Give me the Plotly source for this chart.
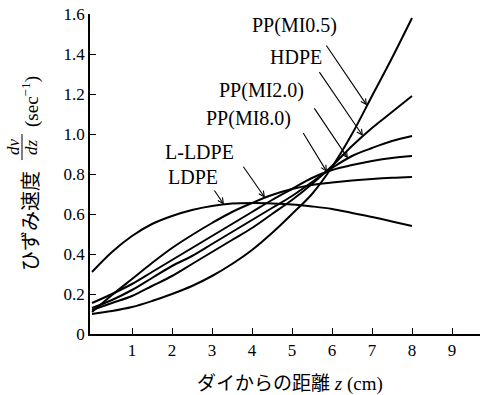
import numpy as np
import plotly.graph_objects as go

# ---- data ----
z = [0, 0.5, 1, 1.5, 2, 2.5, 3, 3.5, 4, 4.5, 5, 5.5, 6, 6.5, 7, 7.5, 8]

ldpe = [0.31, 0.41, 0.49, 0.55, 0.59, 0.62, 0.64, 0.652, 0.655, 0.653, 0.648, 0.638, 0.625, 0.605, 0.585, 0.563, 0.54]
l_ldpe = [0.11, 0.195, 0.275, 0.355, 0.43, 0.495, 0.555, 0.61, 0.655, 0.695, 0.725, 0.745, 0.757, 0.767, 0.775, 0.781, 0.785]
pp_mi80 = [0.155, 0.20, 0.25, 0.31, 0.37, 0.43, 0.49, 0.55, 0.61, 0.67, 0.725, 0.78, 0.82, 0.845, 0.865, 0.88, 0.89]
pp_mi20 = [0.13, 0.17, 0.22, 0.28, 0.34, 0.39, 0.45, 0.51, 0.57, 0.63, 0.69, 0.76, 0.83, 0.89, 0.93, 0.965, 0.99]
hdpe = [0.12, 0.155, 0.19, 0.24, 0.29, 0.35, 0.41, 0.47, 0.53, 0.60, 0.67, 0.75, 0.84, 0.94, 1.03, 1.11, 1.19]
pp_mi05 = [0.10, 0.115, 0.135, 0.165, 0.20, 0.24, 0.29, 0.35, 0.42, 0.505, 0.60, 0.70, 0.835, 1.0, 1.19, 1.38, 1.58]

series = [ldpe, l_ldpe, pp_mi80, pp_mi20, hdpe, pp_mi05]
labels = ["LDPE", "L-LDPE", "PP(MI8.0)", "PP(MI2.0)", "HDPE", "PP(MI0.5)"]
# label text centre (data coords) and arrow tip z
label_z = [2.525, 2.675, 3.9, 4.225, 5.1, 5.05]
label_v = [0.785, 0.91, 1.08, 1.22, 1.385, 1.545]
arrow_z = [3.3, 4.325, 5.875, 6.4, 6.775, 6.875]
arrow_dx = [-11, -23, -25, -35, -45, -42]
arrow_dy = [-16, -33, -41, -52, -66, -62]

x_ticks = [1, 2, 3, 4, 5, 6, 7, 8, 9]
y_ticks = [0, 0.2, 0.4, 0.6, 0.8, 1.0, 1.2, 1.4, 1.6]
y_ticktext = ["0", "0.2", "0.4", "0.6", "0.8", "1.0", "1.2", "1.4", "1.6"]

SERIF = "Times New Roman, Liberation Serif, DejaVu Serif, serif"
CJK = "Noto Sans CJK JP"


def px_x(p):
    return (p - 90) / 390


def px_y(p):
    return (334 - p) / 320


fig = go.Figure()
for s in series:
    fig.add_trace(go.Scatter(x=z, y=s, mode="lines",
                             line=dict(color="black", width=2, shape="spline"),
                             showlegend=False, hoverinfo="skip"))

for lab, lz, lv, az, dx, dy, s in zip(labels, label_z, label_v, arrow_z, arrow_dx, arrow_dy, series):
    fig.add_annotation(x=lz, y=lv, xref="x", yref="y", text=lab, showarrow=False,
                       xanchor="center", yanchor="middle",
                       font=dict(family=SERIF, size=20, color="black"))
    tip_v = float(np.interp(az, z, s))
    fig.add_annotation(x=az, y=tip_v, xref="x", yref="y", text=" ", showarrow=True,
                       ax=dx, ay=dy, arrowhead=5, arrowsize=1, arrowwidth=1.1,
                       arrowcolor="black", standoff=0, font=dict(size=1))

# axis titles
fig.add_annotation(x=px_x(290), y=px_y(381), xref="paper", yref="paper",
                   text=("<span style='font-family:Noto Sans CJK JP'>ダイからの距離</span>"
                         " <i>z</i> (cm)"),
                   showarrow=False, xanchor="center", yanchor="middle",
                   font=dict(family=SERIF, size=19, color="black"))
fig.add_annotation(x=px_x(29), y=px_y(221), xref="paper", yref="paper",
                   text="ひずみ速度", textangle=-90, showarrow=False,
                   xanchor="center", yanchor="middle",
                   font=dict(family=CJK, size=20, color="black"))
fig.add_annotation(x=px_x(13), y=px_y(147), xref="paper", yref="paper",
                   text="<i>dv</i>", textangle=-90, showarrow=False,
                   xanchor="center", yanchor="middle",
                   font=dict(family=SERIF, size=17, color="black"))
fig.add_annotation(x=px_x(31), y=px_y(147), xref="paper", yref="paper",
                   text="<i>dz</i>", textangle=-90, showarrow=False,
                   xanchor="center", yanchor="middle",
                   font=dict(family=SERIF, size=17, color="black"))
fig.add_shape(type="line", xref="paper", yref="paper",
              x0=px_x(22), x1=px_x(22), y0=px_y(134), y1=px_y(160),
              line=dict(color="black", width=1))
fig.add_annotation(x=px_x(30), y=px_y(102), xref="paper", yref="paper",
                   text="(sec<sup>−1</sup>)", textangle=-90, showarrow=False,
                   xanchor="center", yanchor="middle",
                   font=dict(family=SERIF, size=19, color="black"))

fig.update_layout(
    width=482, height=395,
    margin=dict(l=90, r=2, t=14, b=61),
    paper_bgcolor="white", plot_bgcolor="white",
    xaxis=dict(range=[-0.05, 9.7], tickvals=x_ticks, ticks="inside", ticklen=6,
               tickwidth=1, tickcolor="black", showline=True, linecolor="black",
               linewidth=1.5, showgrid=False, zeroline=False,
               tickfont=dict(family=SERIF, size=17, color="black")),
    yaxis=dict(range=[0, 1.6], tickvals=y_ticks, ticktext=y_ticktext, ticks="inside",
               ticklen=6, tickwidth=1, tickcolor="black", showline=True,
               linecolor="black", linewidth=1.5, showgrid=False, zeroline=False,
               tickfont=dict(family=SERIF, size=17, color="black")),
)

fig.write_html("out.html")
